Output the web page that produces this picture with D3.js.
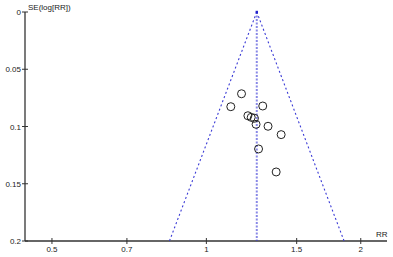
<!DOCTYPE html>
<html>
<head>
<meta charset="utf-8">
<script src="https://cdn.jsdelivr.net/npm/d3@7"></script>
<style>
  html, body { margin: 0; padding: 0; background: #fff; }
  text { font-family: "Liberation Sans", Arial, sans-serif; font-size: 8px; fill: #222; }
</style>
</head>
<body>
<div id="chart"></div>
<script>
  // study estimates
  const studyRR = [1.171, 1.116, 1.288, 1.205, 1.223, 1.241, 1.250, 1.319, 1.399, 1.264, 1.368];
  const studySE = [0.0714, 0.0827, 0.0821, 0.0906, 0.0920, 0.0928, 0.0981, 0.0998, 0.1071, 0.1196, 0.1397];
  const pooledRR = 1.254;
  const xTicks = [0.5, 0.7, 1, 1.5, 2];
  const yTicks = [0, 0.05, 0.1, 0.15, 0.2];

  const width = 393;
  const height = 257;
  const blue = "#3a3ad6";

  const svg = d3.select("#chart").append("svg")
    .attr("width", width)
    .attr("height", height);

  const x = d3.scaleLog().domain([0.443, 2.25]).range([25, 387]);
  const y = d3.scaleLinear().domain([0, 0.2]).range([12, 241]);

  // axes
  const yAxis = svg.append("g").attr("transform", "translate(25,0)");
  yAxis.append("line").attr("y1", y(0)).attr("y2", y(0.2)).attr("stroke", "#333").attr("stroke-width", 1.3);
  yAxis.selectAll("line.tick").data(yTicks).join("line")
    .attr("class", "tick").attr("x1", -3).attr("x2", 3)
    .attr("y1", (d) => y(d)).attr("y2", (d) => y(d)).attr("stroke", "#333");
  yAxis.selectAll("text").data(yTicks).join("text")
    .attr("x", -4).attr("y", (d) => y(d) + 3)
    .attr("text-anchor", "end")
    .text((d) => d3.format("~g")(d));

  const xAxis = svg.append("g").attr("transform", `translate(0,${y(0.2)})`);
  xAxis.append("line").attr("x1", x.range()[0]).attr("x2", x.range()[1]).attr("stroke", "#333").attr("stroke-width", 1.3);
  xAxis.selectAll("line.tick").data(xTicks).join("line")
    .attr("class", "tick").attr("y1", -3).attr("y2", 3)
    .attr("x1", (d) => x(d)).attr("x2", (d) => x(d)).attr("stroke", "#333");
  xAxis.selectAll("text").data(xTicks).join("text")
    .attr("x", (d) => x(d)).attr("y", 11)
    .attr("text-anchor", "middle")
    .text((d) => d);

  svg.append("text").attr("x", 28).attr("y", 10).text("SE(log[RR])");
  svg.append("text").attr("x", 376).attr("y", 237).text("RR");

  // funnel (pseudo 95% limits)
  const maxSE = 0.2;
  const funnel = [
    [[pooledRR, 0], [Math.exp(Math.log(pooledRR) - 1.96 * maxSE), maxSE]],
    [[pooledRR, 0], [Math.exp(Math.log(pooledRR) + 1.96 * maxSE), maxSE]]
  ];
  svg.selectAll("line.funnel").data(funnel).join("line")
    .attr("class", "funnel")
    .attr("x1", (d) => x(d[0][0])).attr("y1", (d) => y(d[0][1]))
    .attr("x2", (d) => x(d[1][0])).attr("y2", (d) => y(d[1][1]))
    .attr("stroke", blue).attr("stroke-width", 1.1)
    .attr("stroke-dasharray", "2,2.5");

  svg.append("line")
    .attr("x1", x(pooledRR)).attr("x2", x(pooledRR))
    .attr("y1", y(0)).attr("y2", y(0.2))
    .attr("stroke", blue).attr("stroke-width", 2)
    .attr("stroke-opacity", 0.6)
    .attr("stroke-dasharray", "2,1.5");

  svg.append("rect")
    .attr("x", x(pooledRR) - 1.2).attr("y", y(0) - 1.2)
    .attr("width", 2.4).attr("height", 2.4).attr("fill", "#2222cc");

  // studies
  svg.selectAll("circle").data(studyRR).join("circle")
    .attr("cx", (d) => x(d))
    .attr("cy", (d, i) => y(studySE[i]))
    .attr("r", 4)
    .attr("fill", "none")
    .attr("stroke", "#222")
    .attr("stroke-width", 1);
</script>
</body>
</html>
